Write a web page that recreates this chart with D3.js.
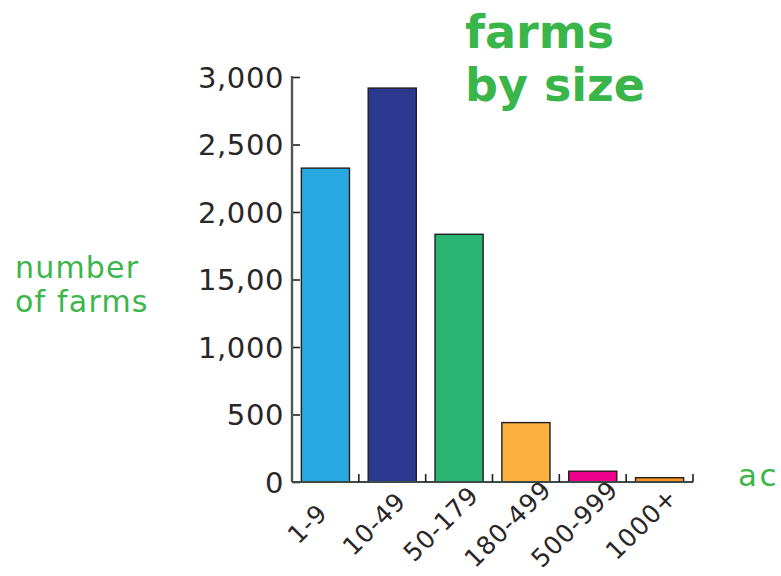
<!DOCTYPE html>
<html>
<head>
<meta charset="utf-8">
<script src="https://cdn.jsdelivr.net/npm/d3@7"></script>
<style>
  body { margin: 0; background: #fff; }
  svg { display: block; }
</style>
</head>
<body>
<script>
// data
var sizes = ["1-9", "10-49", "50-179", "180-499", "500-999", "1000+"];
var farms = [2325, 2918, 1835, 440, 80, 32];
var barColors = ["#27a8e0", "#2b3990", "#2bb573", "#fbb03f", "#ec008c", "#f7941d"];
var tickValues = [0, 500, 1000, 1500, 2000, 2500, 3000];
var tickLabels = ["0", "500", "1,000", "15,00", "2,000", "2,500", "3,000"];

var W = 781, H = 576;
// plot area edges
var pLeft = 292, pRight = 693, pTop = 77, pBottom = 482;

var svg = d3.select("body").append("svg")
    .attr("width", W)
    .attr("height", H);

var font = "'DejaVu Sans', sans-serif";

// scales
var x = d3.scaleBand()
    .domain(sizes)
    .range([pLeft, pRight])
    .paddingInner(0.28)
    .paddingOuter(0.14);

var y = d3.scaleLinear()
    .domain([0, 3000])
    .range([pBottom, pTop]);

// bars
svg.append("g").selectAll("rect")
    .data(sizes)
    .enter()
    .append("rect")
    .attr("x", function (d) { return x(d); })
    .attr("y", function (d, i) { return y(farms[i]); })
    .attr("width", x.bandwidth())
    .attr("height", function (d, i) { return pBottom - y(farms[i]); })
    .attr("fill", function (d, i) { return barColors[i]; })
    .attr("stroke", "#231f20")
    .attr("stroke-width", 1.4);

// y axis, ticks point right toward the bars
var yAxis = d3.axisRight(y)
    .tickValues(tickValues)
    .tickSize(8)
    .tickFormat("");

var gy = svg.append("g")
    .attr("transform", "translate(" + pLeft + ",0)")
    .call(yAxis);
gy.select(".domain").remove();
gy.selectAll(".tick line").attr("stroke", "#231f20").attr("stroke-width", 1.6);

svg.append("line")
    .attr("x1", pLeft).attr("x2", pLeft)
    .attr("y1", pTop - 1).attr("y2", pBottom)
    .attr("stroke", "#4b5a57").attr("stroke-width", 2.4);

gy.selectAll(".tick").append("text")
    .attr("x", -8)
    .attr("dy", "0.36em")
    .attr("text-anchor", "end")
    .attr("fill", "#2a2627")
    .style("font-family", font)
    .style("font-size", "29px")
    .style("letter-spacing", "0.6px")
    .text(function (d, i) { return tickLabels[i]; });

// x axis baseline with small up ticks between bands
svg.append("line")
    .attr("x1", pLeft).attr("x2", pRight)
    .attr("y1", pBottom).attr("y2", pBottom)
    .attr("stroke", "#3d4a48").attr("stroke-width", 2);

svg.append("g").selectAll("line")
    .data(sizes)
    .enter()
    .append("line")
    .attr("x1", function (d) { return x(d) + x.step() - x.step() * 0.14; })
    .attr("x2", function (d) { return x(d) + x.step() - x.step() * 0.14; })
    .attr("y1", pBottom)
    .attr("y2", pBottom - 8)
    .attr("stroke", "#231f20")
    .attr("stroke-width", 1.6);

// rotated category labels
svg.append("g").selectAll("text")
    .data(sizes)
    .enter()
    .append("text")
    .attr("transform", function (d) {
        return "translate(" + (x(d) + x.bandwidth() / 2 - 12) + "," + (pBottom + 48) + ") rotate(-45)";
    })
    .attr("text-anchor", "middle")
    .attr("fill", "#2a2627")
    .style("font-family", font)
    .style("font-size", "25px")
    .style("letter-spacing", "0.8px")
    .text(function (d) { return d; });

// title
var title = svg.append("text")
    .attr("fill", "#39b54a")
    .style("font-family", font)
    .style("font-weight", "bold")
    .style("font-size", "46px");
title.append("tspan").attr("x", 465).attr("y", 48).text("farms");
title.append("tspan").attr("x", 465).attr("y", 101).text("by size");

// axis titles
var ylab = svg.append("text")
    .attr("fill", "#3cb54a")
    .style("font-family", font)
    .style("font-size", "30px")
    .style("letter-spacing", "1.2px");
ylab.append("tspan").attr("x", 15).attr("y", 278).text("number");
ylab.append("tspan").attr("x", 15).attr("y", 312).text("of farms");

// x axis title runs off the right edge, as in the original
svg.append("text")
    .attr("x", 738)
    .attr("y", 486)
    .attr("fill", "#3cb54a")
    .style("font-family", font)
    .style("font-size", "31px")
    .style("letter-spacing", "2.6px")
    .text("acres");
</script>
</body>
</html>
